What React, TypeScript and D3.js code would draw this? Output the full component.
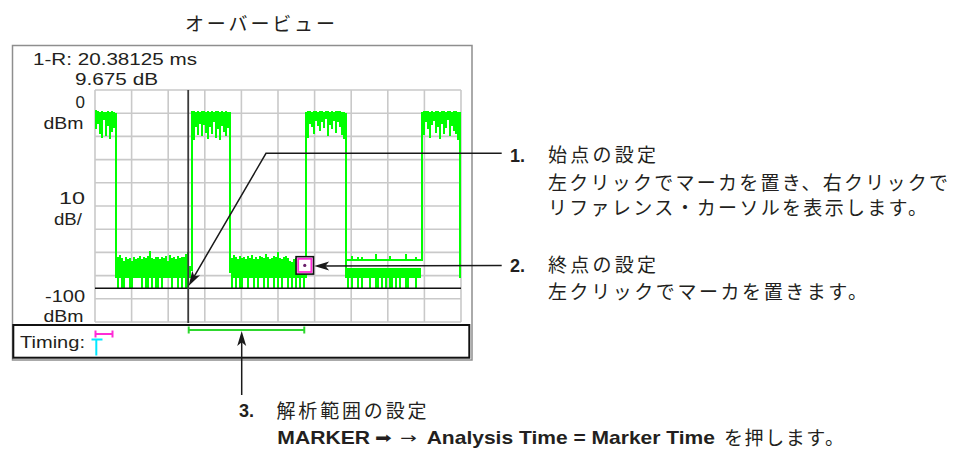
import React from 'react';
import * as d3 from 'd3';

// ---------- texts ----------
const TITLE = 'オーバービュー';
const READOUT_TIME = '1-R: 20.38125 ms';
const READOUT_LEVEL = '9.675 dB';
const Y_TOP_LABELS = ['0', 'dBm'];
const Y_MID_LABELS = ['10', 'dB/'];
const Y_BOT_LABELS = ['-100', 'dBm'];
const TIMING_LABEL = 'Timing:';
const NOTE1 = ['1.', '始点の設定', '左クリックでマーカを置き、右クリックで', 'リファレンス・カーソルを表示します。'];
const NOTE2 = ['2.', '終点の設定', '左クリックでマーカを置きます。'];
const NOTE3 = ['3.', '解析範囲の設定'];
const NOTE3_LINE2 = ['MARKER', '➡', '→', 'Analysis Time = Marker Time', 'を押します。'];

// ---------- axes ----------
const SWEEP_MS = 64;
const N_COLS = 183;
const LEVEL_MIN = -100;
const LEVEL_MAX = 0;
const X_DIVS = 10;
const Y_DIVS = 10;

// ---------- markers ----------
const MARKER_R_MS = 16.3;
const DELTA_MS = 20.38125;
const MARKER1_LEVEL = -75.6;
const REF_LEVEL = -85.5;

// ---------- trace data (max/min per display column, dBm) ----------
const BURST1_START = 0;
const burst1Hi = [-8.8, -9.0, -9.4, -9.1, -9.6, -9.3, -9.2, -9.5, -9.1, -9.4, -9.8];
const burst1Lo = [-17.0, -14.5, -19.0, -20.5, -13.0, -19.8, -15.5, -21.0, -18.0, -16.5, -81.0];

const NOISE1_START = 11;
const noise1Hi = [-72.0, -71.0, -72.5, -73.5, -72.0, -73.0, -72.5, -73.5, -72.0, -72.8, -72.5, -71.5, -73.0, -72.0, -72.5, -71.5, -69.5, -72.5, -73.0, -72.0, -71.8, -73.0, -72.0, -72.5, -71.5, -73.5, -71.0, -72.5, -72.0, -73.0, -71.5, -72.5, -71.8, -72.0, -70.5, -69.8, -76.0];
const noise1Lo = [-85.2, -81.0, -85.2, -85.2, -81.0, -81.0, -85.2, -85.2, -81.0, -81.0, -81.0, -81.0, -85.2, -81.0, -85.2, -85.2, -81.0, -85.2, -81.0, -85.2, -85.2, -81.0, -85.2, -81.0, -81.0, -81.0, -81.0, -85.2, -81.0, -81.0, -85.2, -81.0, -85.2, -81.0, -85.2, -85.2, -81.0];

const BURST2_START = 48;
const burst2Hi = [-9.2, -9.0, -9.3, -9.1, -9.4, -9.0, -9.2, -9.5, -9.1, -9.3, -9.0, -9.4, -9.2, -9.1, -9.3, -9.0, -9.4, -9.2, -9.5, -9.6];
const burst2Lo = [-78.0, -21.5, -16.0, -19.5, -14.5, -20.0, -15.0, -18.5, -21.0, -16.0, -19.0, -14.0, -20.5, -17.0, -21.5, -15.5, -18.0, -20.0, -16.5, -79.0];

const NOISE2_START = 68;
const noise2Hi = [-72.5, -71.0, -72.0, -73.0, -71.5, -72.5, -72.0, -73.0, -71.5, -72.5, -71.0, -72.8, -72.0, -73.0, -71.5, -72.0, -72.5, -70.5, -72.0, -73.0, -72.5, -71.5, -72.0, -70.0, -72.5, -73.0, -72.0, -71.5, -72.5, -73.5, -74.0, -73.0, -72.5, -74.0, -73.5, -72.0, -74.0];
const noise2Lo = [-85.2, -81.0, -85.2, -81.0, -85.2, -85.2, -81.0, -81.0, -85.2, -81.0, -81.0, -85.2, -81.0, -85.2, -81.0, -81.0, -85.2, -81.0, -85.2, -81.0, -81.0, -85.2, -81.0, -85.2, -81.0, -85.2, -81.0, -81.0, -85.2, -81.0, -85.2, -81.0, -85.2, -81.0, -85.2, -81.0, -85.2];

const BURST3_START = 105;
const burst3Hi = [-9.5, -8.9, -9.1, -9.3, -9.0, -9.2, -9.4, -9.1, -9.0, -9.3, -9.2, -9.0, -9.4, -9.1, -9.3, -9.2, -8.9, -9.1, -9.3, -9.4, -9.8];
const burst3Lo = [-81.0, -20.5, -14.5, -16.0, -19.0, -13.5, -15.5, -17.5, -14.0, -16.5, -12.5, -20.0, -15.0, -17.0, -13.5, -18.5, -14.0, -16.0, -19.5, -21.0, -81.0];

const GAP3_START = 126;
const gap3LineHi = [-72.8, -72.8, -71.6, -72.8, -72.8, -71.8, -72.8, -72.0, -72.8, -72.8, -72.8, -72.8, -72.8, -72.8, -70.5, -72.8, -72.8, -72.8, -72.8, -72.8, -72.8, -71.6, -72.8, -72.8, -72.8, -72.8, -72.8, -72.8, -72.8, -70.6, -72.8, -72.8, -72.8, -72.8, -71.8, -72.8, -72.8];
const gap3LineLo = [-73.8, -73.8, -73.8, -73.8, -73.8, -73.8, -73.8, -73.8, -73.8, -73.8, -73.8, -73.8, -73.8, -73.8, -73.8, -73.8, -73.8, -73.8, -73.8, -73.8, -73.8, -73.8, -73.8, -73.8, -73.8, -73.8, -73.8, -73.8, -73.8, -73.8, -73.8, -73.8, -73.8, -73.8, -73.8, -73.8, -73.8];
const gap3BandHi = [-76.7, -76.7, -76.7, -76.7, -76.7, -76.7, -76.7, -76.7, -76.7, -76.7, -76.7, -76.7, -76.7, -76.7, -76.7, -76.7, -76.7, -76.7, -76.7, -76.7, -76.7, -76.7, -76.7, -76.7, -76.7, -76.7, -76.7, -76.7, -76.7, -76.7, -76.7, -76.7, -76.7, -76.7, -76.7, -76.7, -76.7];
const gap3BandLo = [-85.2, -81.0, -85.2, -81.0, -81.0, -85.2, -81.0, -85.2, -81.0, -81.0, -81.0, -85.2, -81.0, -81.0, -85.2, -85.2, -81.0, -85.2, -81.0, -85.2, -81.0, -85.2, -85.2, -81.0, -85.2, -81.0, -85.2, -81.0, -81.0, -85.2, -85.2, -81.0, -81.0, -81.0, -85.2, -81.0, -81.0];

const BURST4_START = 163;
const burst4Hi = [-9.3, -9.0, -9.2, -9.1, -9.3, -9.0, -9.4, -9.2, -9.1, -9.3, -9.0, -9.2, -9.4, -9.1, -9.0, -9.3, -9.2, -9.1, -9.4, -9.6];
const burst4Lo = [-73.8, -19.5, -14.0, -17.0, -20.5, -15.0, -13.5, -18.5, -16.0, -21.0, -14.5, -19.0, -16.5, -13.0, -20.0, -15.5, -17.5, -19.0, -21.5, -81.0];

const SEGMENTS = [
  { start: BURST1_START, hi: burst1Hi, lo: burst1Lo },
  { start: NOISE1_START, hi: noise1Hi, lo: noise1Lo },
  { start: BURST2_START, hi: burst2Hi, lo: burst2Lo },
  { start: NOISE2_START, hi: noise2Hi, lo: noise2Lo },
  { start: BURST3_START, hi: burst3Hi, lo: burst3Lo },
  { start: GAP3_START, hi: gap3LineHi, lo: gap3LineLo },
  { start: GAP3_START, hi: gap3BandHi, lo: gap3BandLo },
  { start: BURST4_START, hi: burst4Hi, lo: burst4Lo },
];

const W = 956;
const H = 450;
const PLOT = { left: 95, right: 461, top: 90, bottom: 322 };

const GREEN = '#00ff00';
const GRID = '#c9c9c9';
const INK = '#231f20';
const MAGENTA = '#ff2bd6';
const CYAN = '#00e8ff';
const LATIN = "'Liberation Sans', Arial, Helvetica, sans-serif";
const CJK = "'Noto Sans CJK JP', 'Noto Sans CJK SC', sans-serif";
const CJK_SIZE = 19;

function arrowHead(tx: number, ty: number, fx: number, fy: number, len: number, hw: number) {
  const dx = tx - fx, dy = ty - fy;
  const d = Math.hypot(dx, dy);
  const ux = dx / d, uy = dy / d;
  const bx = tx - ux * len, by = ty - uy * len;
  const nx = -uy, ny = ux;
  const nxp = tx - ux * len * 0.75, nyp = ty - uy * len * 0.75;
  return `M${tx},${ty} L${bx + nx * hw},${by + ny * hw} L${nxp},${nyp} L${bx - nx * hw},${by - ny * hw} Z`;
}

export default function App() {
  const x = d3.scaleLinear().domain([0, SWEEP_MS]).range([PLOT.left, PLOT.right]);
  const y = d3.scaleLinear().domain([LEVEL_MIN, LEVEL_MAX]).range([PLOT.bottom, PLOT.top]);
  const step = SWEEP_MS / N_COLS;

  const xTicks = d3.range(0, X_DIVS + 1).map((i) => (i * SWEEP_MS) / X_DIVS);
  const yTicks = d3.range(0, Y_DIVS + 1).map((i) => LEVEL_MIN + (i * (LEVEL_MAX - LEVEL_MIN)) / Y_DIVS);

  const cols: { x0: number; x1: number; y0: number; y1: number }[] = [];
  SEGMENTS.forEach((s) => {
    s.hi.forEach((h, i) => {
      const c = s.start + i;
      cols.push({ x0: x(c * step), x1: x((c + 1) * step), y0: y(h), y1: y(s.lo[i]) });
    });
  });

  const mR = x(MARKER_R_MS);
  const m1 = x(MARKER_R_MS + DELTA_MS);
  const m1y = y(MARKER1_LEVEL);
  const refY = y(REF_LEVEL);

  const bracketY = 330;

  // leader lines
  const l1Start = { x: 501.7, y: 153.3 };
  const l1Knee = { x: 266, y: 153.3 };
  const l1Tip = { x: mR + 0.4, y: refY - 2.3 };
  const l2Start = { x: 501.7, y: 265.5 };
  const l2Tip = { x: m1 + 9.4, y: m1y + 0.6 };
  const l3Tip = { x: 241.7, y: bracketY + 1 };
  const l3End = { x: 241.7, y: 395 };

  const midY = y((LEVEL_MIN + LEVEL_MAX) / 2);

  return (
    <svg width={W} height={H} style={{ position: 'absolute', left: 0, top: 0, background: '#fff' }}>
      {/* title */}
      <text x={185} y={30.5} fontFamily={CJK} fontSize={CJK_SIZE} fill={INK} textLength={150} lengthAdjust="spacing">
        {TITLE}
      </text>

      {/* outer frame */}
      <rect x={12.5} y={45.5} width={459.5} height={314.5} fill="none" stroke="#8e8e8e" strokeWidth={1.5} />

      {/* readouts */}
      <text x={33} y={65} fontFamily={LATIN} fontSize={17} fill={INK} textLength={164} lengthAdjust="spacingAndGlyphs">
        {READOUT_TIME}
      </text>
      <text x={75} y={85} fontFamily={LATIN} fontSize={17} fill={INK} textLength={83} lengthAdjust="spacingAndGlyphs">
        {READOUT_LEVEL}
      </text>

      {/* y labels */}
      <g fontFamily={LATIN} fontSize={17} fill={INK} textAnchor="end">
        <text x={85} y={y(LEVEL_MAX) + 18}>{Y_TOP_LABELS[0]}</text>
        <text x={83.5} y={y(LEVEL_MAX) + 39} textLength={40} lengthAdjust="spacingAndGlyphs">{Y_TOP_LABELS[1]}</text>
        <text x={85} y={midY - 2} textLength={26} lengthAdjust="spacingAndGlyphs">{Y_MID_LABELS[0]}</text>
        <text x={82} y={midY + 19} textLength={28} lengthAdjust="spacingAndGlyphs">{Y_MID_LABELS[1]}</text>
        <text x={85} y={y(LEVEL_MIN) - 20.5} textLength={40} lengthAdjust="spacingAndGlyphs">{Y_BOT_LABELS[0]}</text>
        <text x={83.5} y={y(LEVEL_MIN) - 0.5} textLength={40} lengthAdjust="spacingAndGlyphs">{Y_BOT_LABELS[1]}</text>
      </g>

      {/* grid */}
      <g stroke={GRID} strokeWidth={1.6}>
        {xTicks.map((t) => (
          <line key={'gx' + t} x1={x(t)} x2={x(t)} y1={PLOT.top} y2={PLOT.bottom} />
        ))}
        {yTicks.map((t) => (
          <line key={'gy' + t} x1={PLOT.left} x2={PLOT.right} y1={y(t)} y2={y(t)} />
        ))}
      </g>

      {/* trace */}
      <g fill={GREEN} shapeRendering="crispEdges">
        {cols.map((c, i) => (
          <rect key={i} x={c.x0} y={c.y0} width={Math.max(1, c.x1 - c.x0)} height={Math.max(1.5, c.y1 - c.y0)} />
        ))}
      </g>

      {/* reference level line */}
      <line x1={PLOT.left} x2={PLOT.right} y1={refY} y2={refY} stroke="#111" strokeWidth={1.5} />
      {/* reference marker line */}
      <line x1={mR} x2={mR} y1={PLOT.top} y2={PLOT.bottom + 1} stroke="#3a3a3a" strokeWidth={1.8} />

      {/* marker 1 box */}
      <rect x={m1 - 8.7} y={m1y - 8.7} width={17.4} height={17.4} fill="#fff" stroke="#111" strokeWidth={1.6} />
      <rect x={m1 - 6.6} y={m1y - 6.6} width={13.2} height={13.2} fill="none" stroke={MAGENTA} strokeWidth={1.8} />
      <circle cx={m1} cy={m1y} r={1.6} fill="#6a1f6a" />

      {/* timing box */}
      <rect x={13.3} y={325} width={456} height={32.7} fill="#fff" stroke="#111" strokeWidth={2} />
      <text x={20} y={348} fontFamily={LATIN} fontSize={17} fill={INK} textLength={65} lengthAdjust="spacingAndGlyphs">
        {TIMING_LABEL}
      </text>
      <g strokeWidth={2}>
        <line x1={95} x2={113} y1={334} y2={334} stroke={MAGENTA} />
        <line x1={95.5} x2={95.5} y1={330.5} y2={337.5} stroke={MAGENTA} />
        <line x1={112.5} x2={112.5} y1={330.5} y2={337.5} stroke={MAGENTA} />
        <line x1={91.5} x2={102.5} y1={339.5} y2={339.5} stroke={CYAN} />
        <line x1={96.3} x2={96.3} y1={339} y2={355.5} stroke={CYAN} />
      </g>

      {/* analysis range bracket */}
      <g stroke="#2ed82e" strokeWidth={2}>
        <line x1={mR} x2={m1} y1={bracketY} y2={bracketY} />
        <line x1={mR + 0.5} x2={mR + 0.5} y1={bracketY - 3.5} y2={bracketY + 3.5} />
        <line x1={m1 - 0.5} x2={m1 - 0.5} y1={bracketY - 3.5} y2={bracketY + 3.5} />
      </g>

      {/* leader lines */}
      <g stroke="#1a1a1a" strokeWidth={1.5} fill="none">
        <polyline points={`${l1Start.x},${l1Start.y} ${l1Knee.x},${l1Knee.y} ${l1Tip.x + 3},${l1Tip.y - 5.2}`} />
        <line x1={l2Start.x} y1={l2Start.y} x2={l2Tip.x + 8} y2={l2Tip.y} />
        <line x1={l3End.x} y1={l3End.y} x2={l3Tip.x} y2={l3Tip.y + 8} />
      </g>
      <g fill="#1a1a1a">
        <path d={arrowHead(l1Tip.x, l1Tip.y, l1Knee.x, l1Knee.y, 15, 4.5)} />
        <path d={arrowHead(l2Tip.x, l2Tip.y, l2Start.x, l2Start.y, 15, 4.5)} />
        <path d={arrowHead(l3Tip.x, l3Tip.y, l3End.x, l3End.y, 15, 4.5)} />
      </g>

      {/* note 1 */}
      <text x={510} y={161.5} fontFamily={LATIN} fontWeight="bold" fontSize={18} fill={INK}>{NOTE1[0]}</text>
      <g fontFamily={CJK} fontSize={CJK_SIZE} fill={INK}>
        <text x={548} y={162} textLength={108} lengthAdjust="spacing">{NOTE1[1]}</text>
        <text x={548} y={189.5} textLength={400} lengthAdjust="spacing">{NOTE1[2]}</text>
        <text x={548} y={215} textLength={379} lengthAdjust="spacing">{NOTE1[3]}</text>
      </g>

      {/* note 2 */}
      <text x={510} y={271.5} fontFamily={LATIN} fontWeight="bold" fontSize={18} fill={INK}>{NOTE2[0]}</text>
      <g fontFamily={CJK} fontSize={CJK_SIZE} fill={INK}>
        <text x={548} y={272} textLength={108} lengthAdjust="spacing">{NOTE2[1]}</text>
        <text x={548} y={298.5} textLength={319} lengthAdjust="spacing">{NOTE2[2]}</text>
      </g>

      {/* note 3 */}
      <text x={239} y={417} fontFamily={LATIN} fontWeight="bold" fontSize={18} fill={INK}>{NOTE3[0]}</text>
      <text x={276.5} y={418} fontFamily={CJK} fontSize={CJK_SIZE} fill={INK} textLength={150} lengthAdjust="spacing">
        {NOTE3[1]}
      </text>
      <text x={277.3} y={444} fontFamily={LATIN} fontWeight="bold" fontSize={18.5} fill={INK} textLength={92.7} lengthAdjust="spacingAndGlyphs">
        {NOTE3_LINE2[0]}
      </text>
      <text x={375} y={443} fontFamily="'DejaVu Sans', sans-serif" fontSize={15} fill={INK} textLength={16.7} lengthAdjust="spacingAndGlyphs">
        {NOTE3_LINE2[1]}
      </text>
      <text x={400} y={443} fontFamily="'DejaVu Sans', sans-serif" fontSize={15} fill={INK} textLength={16.7} lengthAdjust="spacingAndGlyphs">
        {NOTE3_LINE2[2]}
      </text>
      <text x={426.7} y={444} fontFamily={LATIN} fontWeight="bold" fontSize={18.5} fill={INK} textLength={288.3} lengthAdjust="spacingAndGlyphs">
        {NOTE3_LINE2[3]}
      </text>
      <text x={724} y={445} fontFamily={CJK} fontSize={CJK_SIZE} fill={INK} textLength={120} lengthAdjust="spacing">
        {NOTE3_LINE2[4]}
      </text>
    </svg>
  );
}
